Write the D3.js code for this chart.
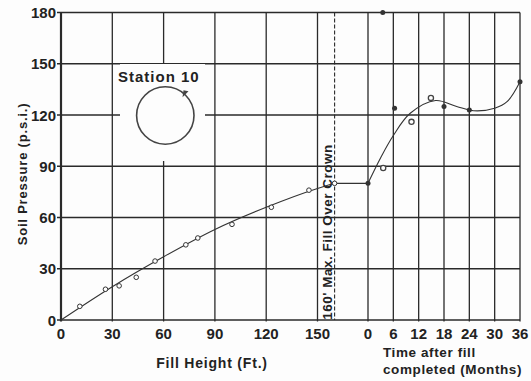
<!DOCTYPE html>
<html>
<head>
<meta charset="utf-8">
<script src="https://cdn.jsdelivr.net/npm/d3@7"></script>
<style>
  body { margin: 0; background: #fff; }
  text { font-family: "Liberation Sans", Arial, sans-serif; font-weight: bold; fill: #222; }
</style>
</head>
<body>
<div id="chart"></div>
<script>
// tick values
var pressureTicks = [0, 30, 60, 90, 120, 150, 180];
var fillTicks = [0, 30, 60, 90, 120, 150];
var timeTicks = [0, 6, 12, 18, 24, 30, 36];
var maxFill = 160;

// measured points, fill stage (ft, psi)
var fillPoints = [[11, 8], [26, 18], [34, 20], [44, 25], [55, 34.5], [73, 44], [80, 48],
                  [100, 56], [123, 66], [145, 76], [160, 80]];
// faired curve through them
var fillCurve = [[0, 0], [30, 19.5], [60, 37], [90, 53], [120, 66], [150, 77], [160, 80]];

// after fill completed (months, psi)
var timeOpen = [[3.6, 89], [10.3, 116], [14.9, 130]];
var timeFilled = [[0, 80], [3.5, 180], [6.3, 124], [18, 125], [24, 123], [36, 139.5]];
var timeCurve = [[0, 80], [3, 95], [6, 108], [10, 121], [16, 128.5], [21, 125],
                 [25, 122.5], [30, 124], [33, 128], [36, 139.5]];

var svgWidth = 531, svgHeight = 381;
var ink = "#2a2a2a";

var svg = d3.select("#chart")
    .append("svg")
    .attr("width", svgWidth)
    .attr("height", svgHeight);

svg.append("rect").attr("width", svgWidth).attr("height", svgHeight).attr("fill", "#fdfdfd");

// scales
var y = d3.scaleLinear().domain([0, 180]).range([320, 12.5]);
var xFill = d3.scaleLinear().domain([0, 150]).range([61, 317.5]);
var xTime = d3.scaleLinear().domain([0, 36]).range([368, 520]);

var grid = svg.append("g").attr("stroke", ink).attr("stroke-width", 1.3);

// horizontal grid
grid.selectAll("line.h")
    .data(pressureTicks)
    .enter()
    .append("line")
    .attr("x1", 57)
    .attr("x2", xTime(36))
    .attr("y1", d => y(d))
    .attr("y2", d => y(d));

// vertical grid, fill height
grid.selectAll("line.vf")
    .data(fillTicks.slice(1))
    .enter()
    .append("line")
    .attr("x1", d => xFill(d))
    .attr("x2", d => xFill(d))
    .attr("y1", y(180))
    .attr("y2", y(0) + 1.5);

// vertical grid, months
grid.selectAll("line.vt")
    .data(timeTicks)
    .enter()
    .append("line")
    .attr("x1", d => xTime(d))
    .attr("x2", d => xTime(d))
    .attr("y1", y(180))
    .attr("y2", y(0) + 1.5);

// left axis line
svg.append("line")
    .attr("x1", xFill(0)).attr("x2", xFill(0))
    .attr("y1", y(180)).attr("y2", y(0) + 1.5)
    .attr("stroke", ink).attr("stroke-width", 2.2);

// dashed max fill line
svg.append("line")
    .attr("x1", xFill(maxFill)).attr("x2", xFill(maxFill))
    .attr("y1", y(180)).attr("y2", y(0))
    .attr("stroke", ink).attr("stroke-width", 1.1)
    .attr("stroke-dasharray", "4,2");

// label box for station sketch
svg.append("rect")
    .attr("x", 120).attr("y", 64).attr("width", 85).attr("height", 97)
    .attr("fill", "#fdfdfd");

svg.append("text")
    .attr("x", 118).attr("y", 82)
    .attr("font-size", "15px")
    .attr("letter-spacing", "1px")
    .text("Station  10");

var cx = 165.3, cy = 115.5, cr = 28.7;
svg.append("circle")
    .attr("cx", cx).attr("cy", cy).attr("r", cr)
    .attr("fill", "none").attr("stroke", "#444").attr("stroke-width", 1.6);
// small arrowhead on the circle
var a = -48 * Math.PI / 180;
var px = cx + cr * Math.cos(a), py = cy + cr * Math.sin(a);
svg.append("path")
    .attr("d", `M${px - 1},${py - 4} L${px + 4},${py - 3} L${px - 2},${py + 3} Z`)
    .attr("fill", "#444");

// tick labels
svg.selectAll("text.ylab")
    .data(pressureTicks)
    .enter()
    .append("text")
    .attr("x", 56)
    .attr("y", d => y(d) + 5.5)
    .attr("text-anchor", "end")
    .attr("font-size", "15px")
    .text(d => d);

svg.selectAll("text.xfill")
    .data(fillTicks)
    .enter()
    .append("text")
    .attr("x", d => xFill(d))
    .attr("y", 339)
    .attr("text-anchor", "middle")
    .attr("font-size", "15px")
    .text(d => d);

svg.selectAll("text.xtime")
    .data(timeTicks)
    .enter()
    .append("text")
    .attr("x", d => xTime(d))
    .attr("y", 339)
    .attr("text-anchor", "middle")
    .attr("font-size", "15px")
    .text(d => d);

// axis titles
svg.append("text")
    .attr("transform", "translate(27, 174) rotate(-90)")
    .attr("text-anchor", "middle")
    .attr("font-size", "13px")
    .attr("letter-spacing", "0.8px")
    .text("Soil Pressure (p.s.i.)");

svg.append("text")
    .attr("x", 212).attr("y", 368)
    .attr("text-anchor", "middle")
    .attr("font-size", "14px")
    .attr("letter-spacing", "0.8px")
    .text("Fill Height (Ft.)");

svg.append("text")
    .attr("x", 383).attr("y", 357)
    .attr("font-size", "13.5px")
    .attr("letter-spacing", "0.6px")
    .text("Time after fill");

svg.append("text")
    .attr("x", 383).attr("y", 374)
    .attr("font-size", "13.5px")
    .attr("letter-spacing", "0.6px")
    .text("completed (Months)");

svg.append("text")
    .attr("transform", `translate(${xFill(maxFill) - 3}, 232) rotate(-90)`)
    .attr("text-anchor", "middle")
    .attr("font-size", "13.5px")
    .attr("letter-spacing", "0.5px")
    .text("160' Max. Fill Over Crown");

// curves
var fillLine = d3.line()
    .x(d => xFill(d[0]))
    .y(d => y(d[1]))
    .curve(d3.curveMonotoneX);

var timeLine = d3.line()
    .x(d => xTime(d[0]))
    .y(d => y(d[1]))
    .curve(d3.curveCatmullRom.alpha(0.5));

svg.append("path")
    .attr("d", fillLine(fillCurve))
    .attr("fill", "none").attr("stroke", "#333").attr("stroke-width", 1.1);

// flat segment between end of fill and start of waiting period
var lastFill = fillCurve[fillCurve.length - 1];
var firstTime = timeCurve[0];
svg.append("line")
    .attr("x1", xFill(lastFill[0])).attr("y1", y(lastFill[1]))
    .attr("x2", xTime(firstTime[0])).attr("y2", y(firstTime[1]))
    .attr("stroke", "#333").attr("stroke-width", 1.1);

svg.append("path")
    .attr("d", timeLine(timeCurve))
    .attr("fill", "none").attr("stroke", "#333").attr("stroke-width", 1.1);

// points
svg.selectAll("circle.fp")
    .data(fillPoints)
    .enter()
    .append("circle")
    .attr("cx", d => xFill(d[0]))
    .attr("cy", d => y(d[1]))
    .attr("r", 2.3)
    .attr("fill", "#fff")
    .attr("stroke", "#333")
    .attr("stroke-width", 1);

svg.selectAll("circle.to")
    .data(timeOpen)
    .enter()
    .append("circle")
    .attr("cx", d => xTime(d[0]))
    .attr("cy", d => y(d[1]))
    .attr("r", 2.6)
    .attr("fill", "#fff")
    .attr("stroke", "#444")
    .attr("stroke-width", 1.3);

svg.selectAll("circle.tf")
    .data(timeFilled)
    .enter()
    .append("circle")
    .attr("cx", d => xTime(d[0]))
    .attr("cy", d => y(d[1]))
    .attr("r", 2.5)
    .attr("fill", "#333");
</script>
</body>
</html>
